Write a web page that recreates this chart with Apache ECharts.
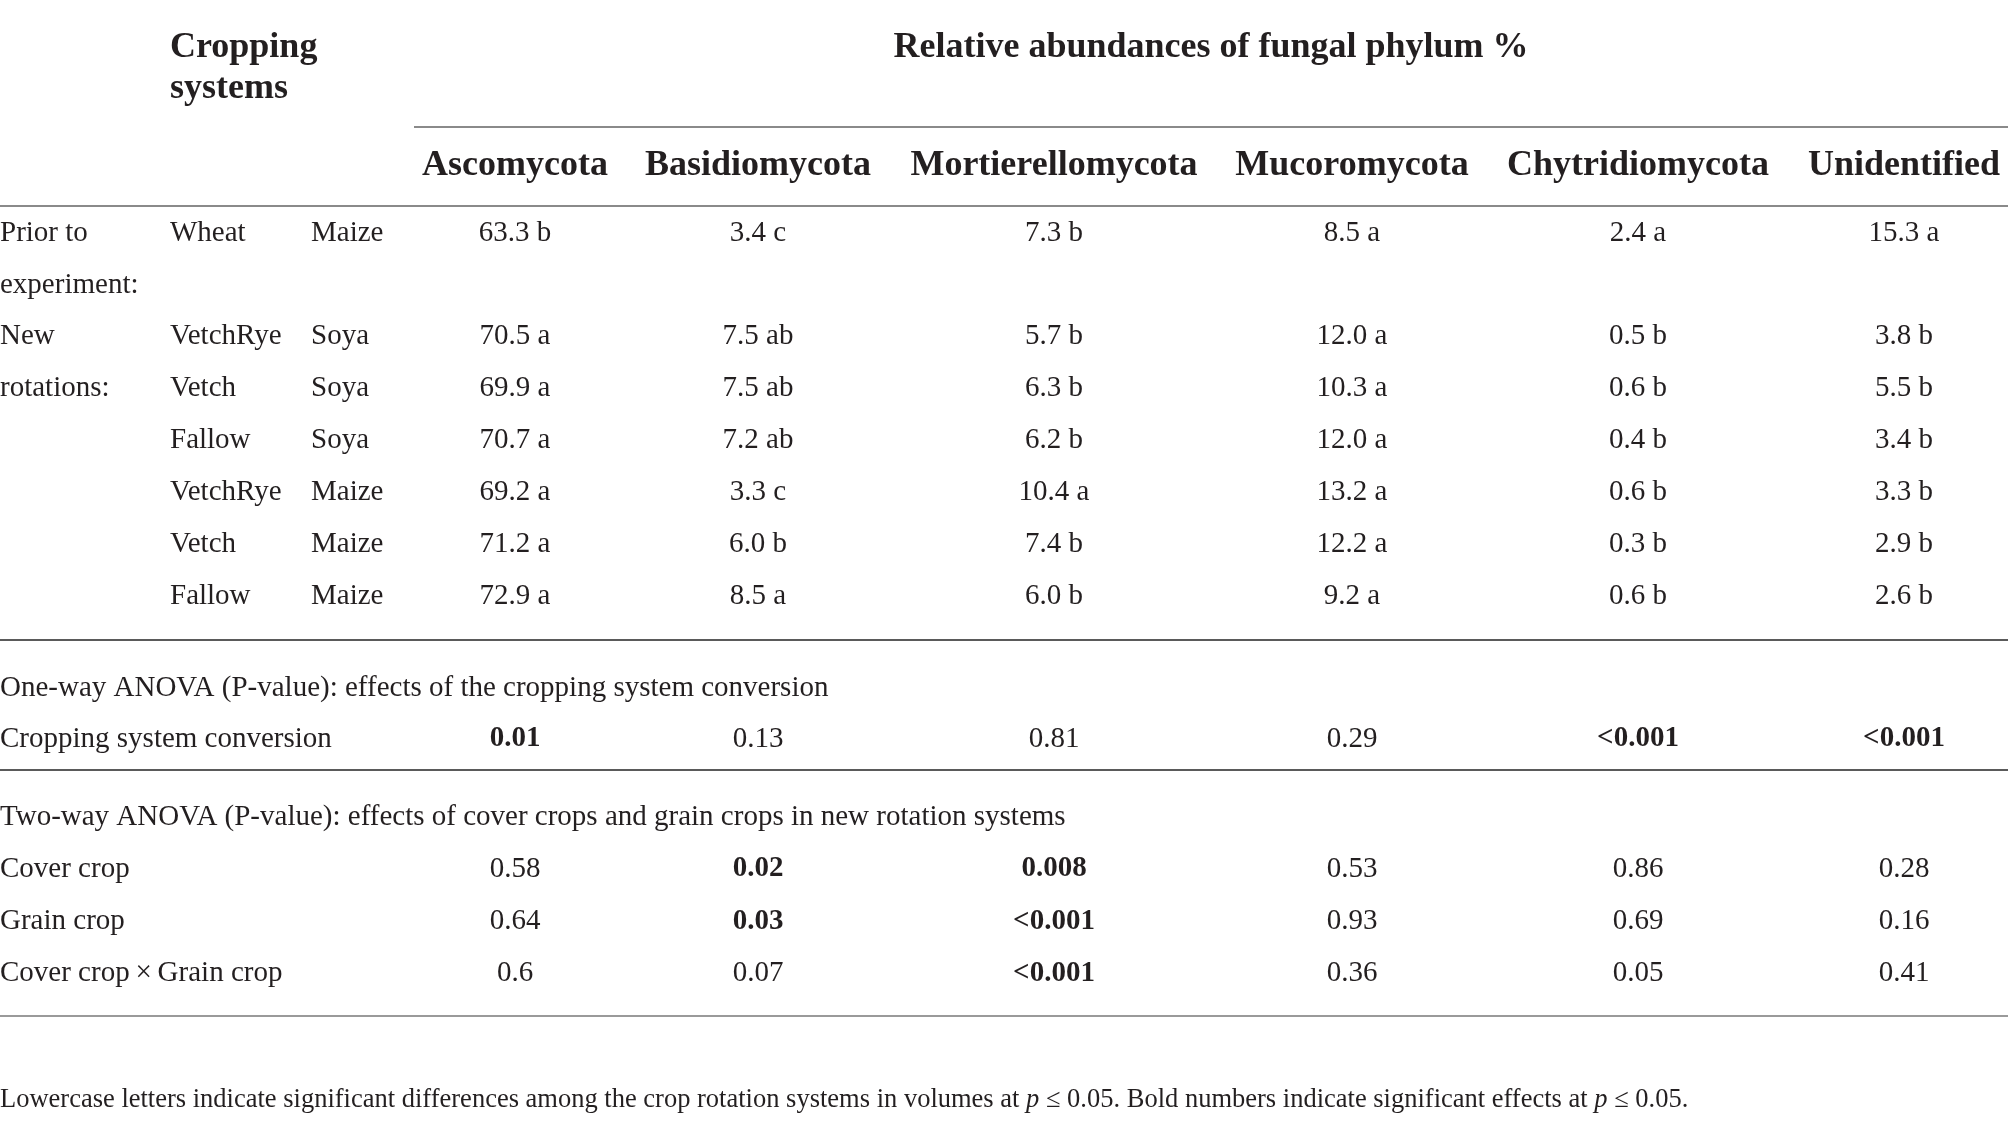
<!DOCTYPE html>
<html>
<head>
<meta charset="utf-8">
<script src="https://cdn.jsdelivr.net/npm/echarts@6/dist/echarts.min.js"></script>
<style>
html, body { margin: 0; padding: 0; background: #fff; }
#main { width: 2008px; height: 1125px; }
</style>
</head>
<body>
<div id="main"></div>
<script>
// 表格数据
var phyla = ['Ascomycota', 'Basidiomycota', 'Mortierellomycota', 'Mucoromycota', 'Chytridiomycota', 'Unidentified'];
var groupLabels = ['Prior to', 'experiment:', 'New', 'rotations:'];
var coverCrops = ['Wheat', 'VetchRye', 'Vetch', 'Fallow', 'VetchRye', 'Vetch', 'Fallow'];
var grainCrops = ['Maize', 'Soya', 'Soya', 'Soya', 'Maize', 'Maize', 'Maize'];

var ascomycota = [63.3, 70.5, 69.9, 70.7, 69.2, 71.2, 72.9];
var ascomycotaSig = ['b', 'a', 'a', 'a', 'a', 'a', 'a'];
var basidiomycota = [3.4, 7.5, 7.5, 7.2, 3.3, 6.0, 8.5];
var basidiomycotaSig = ['c', 'ab', 'ab', 'ab', 'c', 'b', 'a'];
var mortierellomycota = [7.3, 5.7, 6.3, 6.2, 10.4, 7.4, 6.0];
var mortierellomycotaSig = ['b', 'b', 'b', 'b', 'a', 'b', 'b'];
var mucoromycota = [8.5, 12.0, 10.3, 12.0, 13.2, 12.2, 9.2];
var mucoromycotaSig = ['a', 'a', 'a', 'a', 'a', 'a', 'a'];
var chytridiomycota = [2.4, 0.5, 0.6, 0.4, 0.6, 0.3, 0.6];
var chytridiomycotaSig = ['a', 'b', 'b', 'b', 'b', 'b', 'b'];
var unidentified = [15.3, 3.8, 5.5, 3.4, 3.3, 2.9, 2.6];
var unidentifiedSig = ['a', 'b', 'b', 'b', 'b', 'b', 'b'];

var oneWayLabels = ['Cropping system conversion'];
var oneWayP = ['0.01', '0.13', '0.81', '0.29', '<0.001', '<0.001'];
var twoWayLabels = ['Cover crop', 'Grain crop', 'Cover crop\u2009\u00d7\u2009Grain crop'];
var coverCropP = ['0.58', '0.02', '0.008', '0.53', '0.86', '0.28'];
var grainCropP = ['0.64', '0.03', '<0.001', '0.93', '0.69', '0.16'];
var interactionP = ['0.6', '0.07', '<0.001', '0.36', '0.05', '0.41'];

var abundances = [ascomycota, basidiomycota, mortierellomycota, mucoromycota, chytridiomycota, unidentified];
var letters = [ascomycotaSig, basidiomycotaSig, mortierellomycotaSig, mucoromycotaSig, chytridiomycotaSig, unidentifiedSig];

// 版式
var FONT = '"Liberation Serif", "DejaVu Serif", serif';
var INK = '#231f20';
var colX = [515, 758, 1054, 1352, 1638, 1904];
var rowTop = 233, rowStep = 51.9;
var BODY = 29, HEAD = 36;

function text(x, y, s, size, bold, align) {
    return {
        type: 'text',
        x: x,
        y: y,
        style: {
            text: s,
            fill: INK,
            font: (bold ? 'bold ' : '') + size + 'px ' + FONT,
            textAlign: align || 'left',
            textVerticalAlign: 'middle'
        }
    };
}

function rule(y, x1, color) {
    return {
        type: 'line',
        shape: { x1: x1 || 0, y1: y, x2: 2008, y2: y },
        style: { stroke: color, lineWidth: 2 }
    };
}

function isSignificant(p) {
    return p.charAt(0) === '<' || parseFloat(p) < 0.05;
}

var els = [];

// 表头
els.push(text(170, 48, 'Cropping', HEAD, true));
els.push(text(170, 89, 'systems', HEAD, true));
els.push(text(1211, 48, 'Relative abundances of fungal phylum %', HEAD, true, 'center'));
els.push(rule(127, 414, '#8a8a8a'));
phyla.forEach(function (name, j) {
    els.push(text(colX[j], 166, name, HEAD, true, 'center'));
});
els.push(rule(206, 0, '#8a8a8a'));

// 丰度行
groupLabels.forEach(function (s, i) {
    els.push(text(0, rowTop + i * rowStep, s, BODY, false));
});
coverCrops.forEach(function (c, k) {
    var r = k === 0 ? 0 : k + 1;
    var y = rowTop + r * rowStep;
    els.push(text(170, y, c, BODY, false));
    els.push(text(311, y, grainCrops[k], BODY, false));
    abundances.forEach(function (vals, j) {
        els.push(text(colX[j], y, vals[k].toFixed(1) + ' ' + letters[j][k], BODY, false, 'center'));
    });
});
els.push(rule(640, 0, '#5a5a5a'));

// 单因素方差分析
els.push(text(0, 688, 'One-way ANOVA (P-value): effects of the cropping system conversion', BODY, false));
els.push(text(0, 739, oneWayLabels[0], BODY, false));
oneWayP.forEach(function (p, j) {
    els.push(text(colX[j], 739, p, BODY, isSignificant(p), 'center'));
});
els.push(rule(770, 0, '#5a5a5a'));

// 双因素方差分析
els.push(text(0, 817, 'Two-way ANOVA (P-value): effects of cover crops and grain crops in new rotation systems', BODY, false));
[coverCropP, grainCropP, interactionP].forEach(function (row, i) {
    var y = 869 + i * 52.3;
    els.push(text(0, y, twoWayLabels[i], BODY, false));
    row.forEach(function (p, j) {
        els.push(text(colX[j], y, p, BODY, isSignificant(p), 'center'));
    });
});
els.push(rule(1016, 0, '#9a9a9a'));

// 脚注
els.push({
    type: 'text',
    x: 0,
    y: 1100,
    style: {
        text: '{n|Lowercase letters indicate significant differences among the crop rotation systems in volumes at }{i|p}{n| \u2264 0.05. Bold numbers indicate significant effects at }{i|p}{n| \u2264 0.05.}',
        textVerticalAlign: 'middle',
        rich: {
            n: { fontSize: 26.5, fontFamily: FONT, fill: INK },
            i: { fontSize: 26.5, fontFamily: FONT, fontStyle: 'italic', fill: INK }
        }
    }
});

var myChart = echarts.init(document.getElementById('main'));
var option = {
    backgroundColor: '#fff',
    animation: false,
    graphic: { elements: els }
};
myChart.setOption(option);
</script>
</body>
</html>
